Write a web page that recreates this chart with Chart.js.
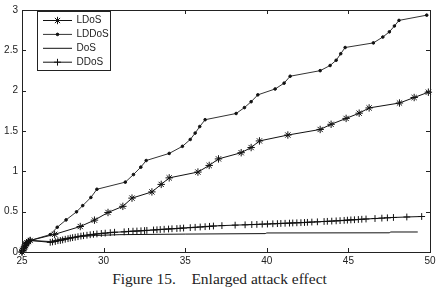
<!DOCTYPE html>
<html>
<head>
<meta charset="utf-8">
<script src="https://cdn.jsdelivr.net/npm/chart.js@4.4.1/dist/chart.umd.min.js"></script>
<style>
  html, body { margin: 0; padding: 0; background: #fff; }
  #wrap { position: relative; width: 439px; height: 298px; }
  #chart { display: block; }
  #caption {
    position: absolute; left: 0; top: 270px; width: 439px; text-align: center;
    font-family: "Liberation Serif", "Times New Roman", serif; font-size: 15.5px; color: #222;
    white-space: pre;
  }
</style>
</head>
<body>
<div id="wrap">
  <canvas id="chart" width="439" height="268"></canvas>
  <div id="caption">Figure 15.    Enlarged attack effect</div>
</div>
<script>
// series names (legend order)
const seriesNames = ["LDoS", "LDDoS", "DoS", "DDoS"];

// x / y ticks
const xTicks = [25, 30, 35, 40, 45, 50];
const yTicks = [0, 0.5, 1, 1.5, 2, 2.5, 3];

// start cluster shared by all lines
const startX = [25.0, 25.05, 25.1, 25.15, 25.2, 25.25, 25.3, 25.4, 25.5];
const startY = [0.0, 0.02, 0.04, 0.06, 0.08, 0.1, 0.115, 0.13, 0.143];

// LDoS (star marker)
const ldosX = [27.0, 28.57, 29.44, 30.27, 31.18, 31.74, 32.96, 33.53, 34.02, 35.78, 36.47, 37.04,
  38.43, 39.04, 39.55, 41.29, 43.27, 43.94, 44.86, 45.66, 46.27, 48.13, 49.03, 49.9];
const ldosY = [0.219, 0.316, 0.395, 0.49, 0.566, 0.668, 0.745, 0.838, 0.919, 0.991, 1.073, 1.154,
  1.231, 1.295, 1.377, 1.45, 1.519, 1.583, 1.656, 1.721, 1.786, 1.847, 1.915, 1.981];

// LDDoS (dot marker)
const lddosX = [26.73, 27.16, 27.7, 28.34, 28.72, 29.22, 29.59, 31.33, 31.83, 32.28, 32.61, 34.02,
  34.83, 35.31, 35.61, 35.89, 36.22, 38.12, 38.63, 39.04, 39.45, 40.51, 41.06, 41.43, 43.27, 43.88,
  44.25, 44.53, 44.8, 46.53, 47.11, 47.51, 47.82, 48.1, 49.8];
const lddosY = [0.216, 0.307, 0.398, 0.498, 0.575, 0.676, 0.778, 0.866, 0.96, 1.052, 1.134, 1.222,
  1.31, 1.395, 1.474, 1.555, 1.64, 1.717, 1.79, 1.863, 1.948, 2.021, 2.093, 2.179, 2.248, 2.312,
  2.377, 2.458, 2.535, 2.592, 2.665, 2.729, 2.802, 2.871, 2.936];

// DoS (plain line)
const dosX = [26.7, 27.5, 28.5, 29.5, 31.0, 35.0, 39.9, 40.0, 47.5, 47.6, 49.25];
const dosY = [0.13, 0.165, 0.19, 0.205, 0.215, 0.222, 0.228, 0.236, 0.238, 0.248, 0.248];

// DDoS (plus marker)
const ddosX = [26.73, 26.87, 27.04, 27.2, 27.35, 27.49, 27.65, 27.82, 27.96, 28.1, 28.26, 28.43,
  28.61, 28.77, 28.98, 29.18, 29.38, 29.59, 29.86, 30.1, 30.41, 30.67, 31.26, 31.53, 31.8, 32.04,
  32.29, 32.51, 32.65, 33.06, 33.27, 33.47, 33.71, 33.98, 34.19, 34.49, 34.69, 34.9, 35.31, 35.61,
  35.92, 36.22, 36.49, 36.73, 37.25, 38.06, 38.67, 39.08, 39.39, 39.72, 40.04, 40.37, 40.65, 40.86,
  41.12, 41.39, 41.59, 41.84, 42.09, 42.31, 42.49, 42.76, 43.1, 43.51, 43.71, 43.98, 44.25, 44.49,
  44.74, 44.94, 45.15, 45.37, 45.61, 45.82, 46.08, 46.63, 47.05, 47.39, 47.76, 48.58, 49.49];
const ddosY = [0.12, 0.125, 0.13, 0.14, 0.143, 0.15, 0.158, 0.165, 0.172, 0.178, 0.183, 0.19,
  0.197, 0.202, 0.208, 0.214, 0.219, 0.224, 0.23, 0.234, 0.24, 0.245, 0.25, 0.255, 0.258, 0.26,
  0.263, 0.266, 0.268, 0.273, 0.276, 0.279, 0.282, 0.285, 0.288, 0.291, 0.294, 0.297, 0.302, 0.306,
  0.31, 0.314, 0.318, 0.322, 0.327, 0.333, 0.337, 0.34, 0.342, 0.345, 0.347, 0.35, 0.352, 0.354,
  0.356, 0.358, 0.36, 0.362, 0.364, 0.366, 0.368, 0.371, 0.374, 0.378, 0.38, 0.383, 0.386, 0.389,
  0.392, 0.395, 0.398, 0.4, 0.403, 0.406, 0.409, 0.415, 0.42, 0.424, 0.428, 0.434, 0.44];

const toPoints = (xs, ys) => startX.map((x, i) => ({ x, y: startY[i] }))
  .concat(xs.map((x, i) => ({ x, y: ys[i] })));

const styles = [
  { pointStyle: "star", pointRadius: 3.7, borderColor: "#111", lineColor: "#111" },
  { pointStyle: "circle", pointRadius: 1.3, borderColor: "#111", lineColor: "#333" },
  { pointStyle: false, pointRadius: 0, borderColor: "#111", lineColor: "#111" },
  { pointStyle: "cross", pointRadius: 3.4, borderColor: "#111", lineColor: "#111" },
];

const allData = [[ldosX, ldosY], [lddosX, lddosY], [dosX, dosY], [ddosX, ddosY]];

const datasets = seriesNames.map((name, i) => ({
  label: name,
  data: toPoints(allData[i][0], allData[i][1]),
  borderColor: styles[i].lineColor,
  borderWidth: 1,
  pointStyle: styles[i].pointStyle,
  pointRadius: styles[i].pointRadius,
  pointBorderColor: styles[i].borderColor,
  pointBackgroundColor: "#111",
  pointBorderWidth: 1,
  tension: 0,
  fill: false,
  clip: false,
}));

// box, inward ticks and MATLAB-style legend
const matlabAxes = {
  id: "matlabAxes",
  afterDraw(chart) {
    const { ctx, chartArea: a, scales } = chart;
    ctx.save();
    ctx.strokeStyle = "#222";
    ctx.lineWidth = 1;
    ctx.strokeRect(Math.round(a.left) + 0.5, Math.round(a.top) + 0.5,
      Math.round(a.right - a.left), Math.round(a.bottom - a.top));
    ctx.beginPath();
    xTicks.forEach((v) => {
      const px = Math.round(scales.x.getPixelForValue(v)) + 0.5;
      ctx.moveTo(px, a.bottom); ctx.lineTo(px, a.bottom - 4);
      ctx.moveTo(px, a.top); ctx.lineTo(px, a.top + 4);
    });
    yTicks.forEach((v) => {
      const py = Math.round(scales.y.getPixelForValue(v)) + 0.5;
      ctx.moveTo(a.left, py); ctx.lineTo(a.left + 4, py);
      ctx.moveTo(a.right, py); ctx.lineTo(a.right - 4, py);
    });
    ctx.stroke();

    // legend
    const bx = 37.5, by = 11.5, bw = 73, bh = 59;
    ctx.fillStyle = "#fff";
    ctx.fillRect(bx, by, bw, bh);
    ctx.strokeRect(bx, by, bw, bh);
    ctx.font = "10px 'Liberation Sans', Arial, sans-serif";
    ctx.textBaseline = "middle";
    seriesNames.forEach((name, i) => {
      const ry = 20.5 + i * 13.9;
      ctx.strokeStyle = styles[i].lineColor;
      ctx.beginPath();
      ctx.moveTo(43, ry); ctx.lineTo(72, ry);
      ctx.stroke();
      if (styles[i].pointStyle) {
        ctx.fillStyle = "#111";
        ctx.strokeStyle = styles[i].borderColor;
        Chart.helpers.drawPoint(ctx, {
          pointStyle: styles[i].pointStyle, radius: styles[i].pointRadius, borderWidth: 1, rotation: 0,
        }, 57.5, ry);
      }
      ctx.fillStyle = "#222";
      ctx.fillText(name, 76.5, ry);
    });
    ctx.restore();
  },
};

const tickFont = { family: "'Liberation Sans', Arial, sans-serif", size: 10 };

new Chart(document.getElementById("chart"), {
  type: "line",
  data: { datasets },
  options: {
    responsive: false,
    devicePixelRatio: 1,
    animation: false,
    layout: { autoPadding: false, padding: { left: 0, top: 5, right: 9, bottom: 0 } },
    plugins: { legend: { display: false }, tooltip: { enabled: false } },
    scales: {
      x: {
        type: "linear",
        min: 25,
        max: 50,
        afterBuildTicks: (s) => { s.ticks = xTicks.map((v) => ({ value: v })); },
        afterFit: (s) => { s.height = 16; },
        grid: { display: false, drawTicks: false },
        border: { display: false },
        ticks: { font: tickFont, color: "#222", padding: 3, maxRotation: 0, callback: (v) => String(v) },
      },
      y: {
        type: "linear",
        min: 0,
        max: 3,
        afterBuildTicks: (s) => { s.ticks = yTicks.map((v) => ({ value: v })); },
        afterFit: (s) => { s.width = 22; },
        grid: { display: false, drawTicks: false },
        border: { display: false },
        ticks: { font: tickFont, color: "#222", padding: 4, callback: (v) => String(v) },
      },
    },
  },
  plugins: [matlabAxes],
});
</script>
</body>
</html>
